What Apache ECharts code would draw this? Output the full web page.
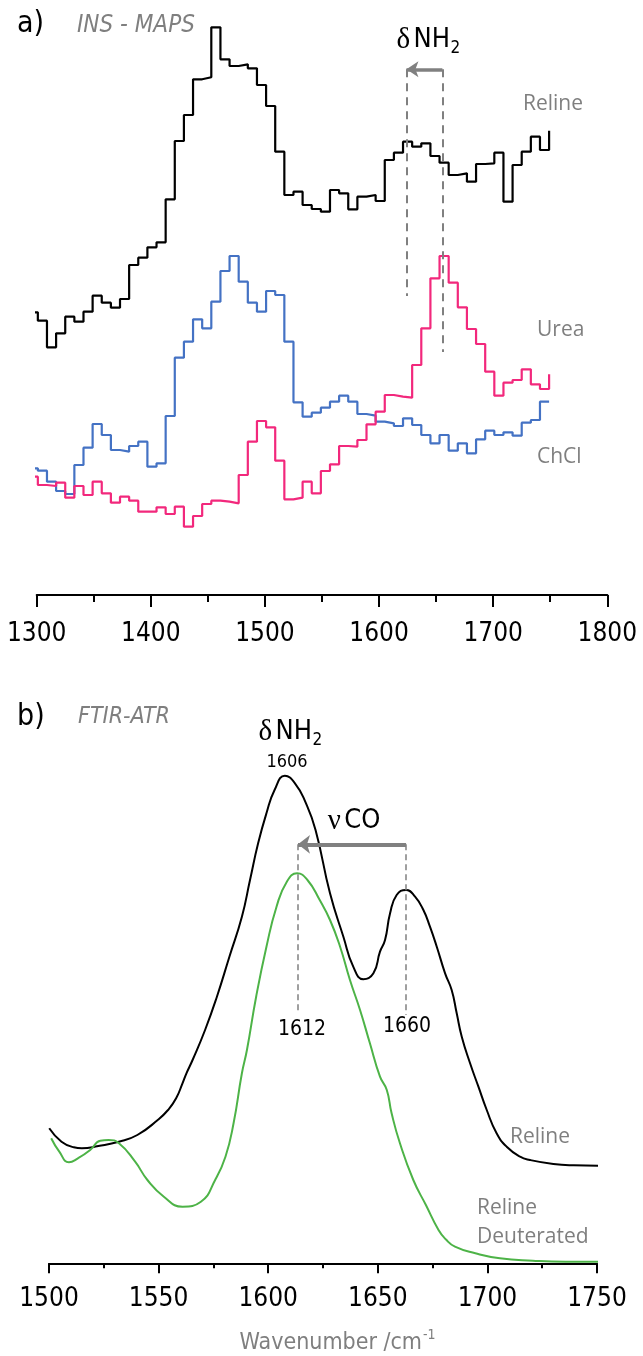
<!DOCTYPE html>
<html><head><meta charset="utf-8">
<script src="https://cdn.jsdelivr.net/npm/echarts@6/dist/echarts.min.js"></script>
<style>html,body{margin:0;padding:0;background:#fff}#c{width:643px;height:1356px}</style>
</head><body><div id="c"></div>
<script>
// ---------- Panel a: INS - MAPS (bin boundaries, cm-1; intensities in a.u.) ----------
const insWavenumber = [1293, 1301, 1309, 1317, 1325, 1333, 1341, 1349, 1357, 1365, 1373, 1381, 1389, 1397, 1405, 1413, 1421, 1429, 1437, 1445, 1453, 1461, 1469, 1477, 1485, 1493, 1501, 1509, 1517, 1525, 1533, 1541, 1549, 1557, 1565, 1573, 1581, 1589, 1597, 1605, 1613, 1621, 1629, 1637, 1645, 1653, 1661, 1669, 1677, 1685, 1693, 1701, 1709, 1717, 1725, 1733, 1741, 1749];
const insReline = [282.7, 274.3, 247.7, 261.7, 278.3, 273.3, 283.3, 299.3, 292.3, 287.3, 296, 330, 337.3, 347.7, 352.7, 395.7, 454, 480, 515.7, 517.7, 567.7, 535.7, 529, 530.7, 526.7, 510, 489, 443.3, 400, 403.3, 390, 386, 383.3, 405, 401.7, 385.7, 398.3, 400, 394, 435, 442.3, 453.3, 448.3, 451.7, 439, 432.3, 420, 421.7, 413.3, 431, 431.7, 442.3, 393.3, 430, 443.3, 458.3, 445, 464.3];
const insChCl = [126.7, 124.3, 113.3, 104, 101, 130, 147.3, 171, 160, 145, 143.3, 149, 153.3, 128.3, 131.7, 179, 237.3, 253.3, 275.7, 266.7, 293.3, 324, 339, 313.3, 292.3, 283.3, 304, 300, 253.3, 192.7, 178.3, 182.3, 187.3, 193.3, 199.3, 193.3, 181, 179.3, 173.3, 171.7, 169, 176.7, 170, 160, 151.7, 160, 144.3, 151.7, 141.7, 155.7, 164.3, 160, 162.7, 159.3, 172.3, 175, 193.3, 193.3];
const insUrea = [118.3, 110, 109, 112.3, 97.3, 109, 100, 113.3, 101.7, 92.3, 98.3, 94.3, 83.3, 83.3, 87.7, 81, 88.3, 68.3, 79, 91, 94.3, 93.3, 91.7, 120, 153.3, 174, 167.7, 134.3, 95.7, 97.3, 113.3, 101.7, 124, 130.7, 149, 148.3, 155, 170.7, 183.3, 200, 198.3, 197.3, 230, 266.7, 316.7, 339, 312.3, 287.7, 266, 251, 223.3, 199.3, 212.3, 215, 225.7, 210.7, 206, 220.7];
const insTicks = [1300, 1400, 1500, 1600, 1700, 1800];
const insShift = {from: 1655.5, to: 1624, level: 525.7, endTo: 299, endFrom: 243};

// ---------- Panel b: FTIR-ATR ----------
const ftirRelineWn = [1500.1, 1505.7, 1511.3, 1515, 1522.5, 1531.9, 1540.3, 1549.6, 1554.3, 1558, 1560.9, 1562.7, 1565.5, 1571.2, 1576.6, 1582.3, 1588, 1591.7, 1595.4, 1599.2, 1602.9, 1607.6, 1612.2, 1616.9, 1621.6, 1628.2, 1634.3, 1638.8, 1643.4, 1648, 1651, 1653.3, 1655.6, 1658.6, 1662.9, 1667, 1670.8, 1673.8, 1676.9, 1680.7, 1683.7, 1686, 1688.3, 1692.1, 1695.9, 1699.7, 1704.2, 1708.8, 1714.9, 1719.4, 1730.1, 1739.4, 1752.5];
const ftirReline = [135, 121.6, 116, 115, 117.3, 121.6, 128.3, 143.3, 153.3, 165, 180, 190, 203.3, 233.3, 266.6, 306.6, 346.6, 383.3, 420, 450, 473.3, 487.6, 480, 461.6, 433.3, 370, 326.6, 296.6, 284, 290, 311.6, 323.3, 350, 368.3, 373.3, 366.6, 353.3, 336.6, 316.6, 290, 273.3, 250, 226.6, 200, 176.6, 153.3, 130, 116.6, 106.6, 103.3, 99.3, 98, 97.6];
const ftirDeutWn = [1501, 1504.7, 1509.1, 1513.2, 1518.8, 1523.4, 1527.2, 1531.9, 1539.3, 1544.9, 1552.4, 1560.9, 1569.3, 1575.8, 1580.5, 1584.2, 1588, 1590.3, 1594.5, 1599.2, 1603.8, 1608.5, 1613.2, 1617.9, 1623.5, 1628.2, 1632.8, 1637.3, 1641.9, 1646.4, 1651, 1654.1, 1656.3, 1660.1, 1666.2, 1672, 1677.7, 1681, 1685.2, 1694.5, 1705.7, 1720.7, 1735.7, 1750.6];
const ftirDeut = [125, 111.6, 101, 105, 113.3, 122.6, 123.3, 120, 101.6, 83.3, 66.6, 56.6, 61.6, 83.3, 106.6, 140, 190, 213.3, 266.6, 316.6, 356.6, 381.6, 390, 383.3, 363.3, 343.3, 316.6, 283.3, 253.3, 220, 186.6, 173.3, 150, 120, 83.3, 58, 33.3, 24, 16.6, 10, 5, 2.6, 1.6, 1.6];
const ftirTicks = [1500, 1550, 1600, 1650, 1700, 1750];
const ftirShift = {from: 1662.9, to: 1613.6, level: 419, endTo: 250.3, endFrom: 248.3};

// ---------- Rendering ----------
const NUM_FONT = "'DejaVu Sans Condensed','DejaVu Sans',sans-serif";
const LBL_FONT = "'Open Sans',sans-serif";
const SERIF = "'Liberation Serif','DejaVu Serif',serif";
const GRAY = '#7f7f7f';
const pairs = (xs, ys) => xs.map((x, i) => [x, ys[i]]);

function xAxisCfg(gi, ticks, tickLen, minorLen, margin) {
  return {
    gridIndex: gi, type: 'value', min: ticks[0], max: ticks[ticks.length - 1],
    interval: ticks[1] - ticks[0],
    axisLine: {show: true, onZero: false, lineStyle: {color: '#000', width: 2}},
    axisTick: {show: true, length: tickLen, lineStyle: {color: '#000', width: 2}},
    minorTick: {show: true, splitNumber: 2, length: minorLen, lineStyle: {color: '#000', width: 2}},
    axisLabel: {fontSize: 26, fontFamily: NUM_FONT, color: '#000', margin: margin,
      formatter: v => String(v), showMinLabel: true, showMaxLabel: true, hideOverlap: false},
    splitLine: {show: false}, minorSplitLine: {show: false}
  };
}
function shiftMarks(s, dashW, dash, arrowW, arrowSize) {
  const dashStyle = {color: '#808080', width: dashW, type: dash};
  return {
    silent: true, animation: false, label: {show: false}, symbol: ['none', 'none'],
    emphasis: {disabled: true},
    data: [
      [{coord: [s.to, s.level], lineStyle: dashStyle}, {coord: [s.to, s.endTo]}],
      [{coord: [s.from, s.level], lineStyle: dashStyle}, {coord: [s.from, s.endFrom]}],
      [{coord: [s.from, s.level], symbol: 'none', lineStyle: {color: '#808080', width: arrowW, type: 'solid'}},
       {coord: [s.to, s.level], symbol: 'arrow', symbolSize: arrowSize}]
    ]
  };
}
function txt(x, y, text, size, color, family, align, extra) {
  return {type: 'text', silent: true, z: 10, style: Object.assign({
    x: x, y: y, text: text, fontSize: size, fontFamily: family, fill: color,
    align: align || 'left', verticalAlign: 'middle'}, extra || {})};
}
function greek(x, y, g, rest, align) {
  return {type: 'text', silent: true, z: 10, style: {x: x, y: y, text: '{g|' + g + '} {n|' + rest + '}',
    align: align, verticalAlign: 'middle',
    rich: {g: {fontSize: 29, fontFamily: SERIF, fill: '#000'}, n: {fontSize: 27, fontFamily: NUM_FONT, fill: '#000'}}}};
}

const chart = echarts.init(document.getElementById('c'), null, {renderer: 'canvas'});
chart.setOption({
  animation: false,
  grid: [
    {left: 36.7, right: 35.7, top: 20, bottom: 761, outerBoundsMode: 'none'},
    {left: 49, right: 46, top: 763.3, bottom: 92.7, outerBoundsMode: 'none'}
  ],
  xAxis: [xAxisCfg(0, insTicks, 12, 7, 26), xAxisCfg(1, ftirTicks, 10, 5, 23)],
  yAxis: [
    {gridIndex: 0, type: 'value', min: 0, max: 575, show: false},
    {gridIndex: 1, type: 'value', min: 0, max: 500, show: false}
  ],
  series: [
    {name: 'Reline (INS)', type: 'line', xAxisIndex: 0, yAxisIndex: 0, step: 'end', symbol: 'none',
     clip: false, silent: true, lineStyle: {color: '#000', width: 2.2}, data: pairs(insWavenumber, insReline),
     markLine: shiftMarks(insShift, 2, [8, 6], 3.5, [12, 12])},
    {name: 'ChCl', type: 'line', xAxisIndex: 0, yAxisIndex: 0, step: 'end', symbol: 'none',
     clip: false, silent: true, lineStyle: {color: '#4472C4', width: 2.2}, data: pairs(insWavenumber, insChCl)},
    {name: 'Urea', type: 'line', xAxisIndex: 0, yAxisIndex: 0, step: 'end', symbol: 'none',
     clip: false, silent: true, lineStyle: {color: '#F2287C', width: 2.2}, data: pairs(insWavenumber, insUrea)},
    {name: 'Reline (FTIR)', type: 'line', xAxisIndex: 1, yAxisIndex: 1, smooth: 0.5, symbol: 'none',
     clip: false, silent: true, lineStyle: {color: '#000', width: 2}, data: pairs(ftirRelineWn, ftirReline),
     markLine: shiftMarks(ftirShift, 1.5, [6, 4], 4, [14, 12])},
    {name: 'Reline Deuterated', type: 'line', xAxisIndex: 1, yAxisIndex: 1, smooth: 0.5, symbol: 'none',
     clip: false, silent: true, lineStyle: {color: '#4DB347', width: 2}, data: pairs(ftirDeutWn, ftirDeut)}
  ],
  graphic: [
    txt(17, 24, 'a)', 30, '#000', NUM_FONT),
    txt(77, 26, 'INS - MAPS', 24, GRAY, NUM_FONT, 'left', {fontStyle: 'italic'}),
    greek(450, 40, 'δ', 'NH', 'right'),
    txt(450.5, 49, '2', 17, '#000', NUM_FONT),
    txt(523, 104, 'Reline', 21, GRAY, LBL_FONT),
    txt(537, 330, 'Urea', 21, GRAY, LBL_FONT),
    txt(537, 457, 'ChCl', 21, GRAY, LBL_FONT),

    txt(17, 717, 'b)', 30, '#000', NUM_FONT),
    txt(78, 717, 'FTIR-ATR', 23, GRAY, NUM_FONT, 'left', {fontStyle: 'italic'}),
    greek(312, 732, 'δ', 'NH', 'right'),
    txt(312.5, 741, '2', 17, '#000', NUM_FONT),
    txt(287, 762, '1606', 18, '#000', NUM_FONT, 'center'),
    greek(354, 821, 'ν', 'CO', 'center'),
    txt(302, 1030, '1612', 21, '#000', NUM_FONT, 'center'),
    txt(407, 1027, '1660', 21, '#000', NUM_FONT, 'center'),
    txt(510, 1137, 'Reline', 21, GRAY, LBL_FONT),
    txt(477, 1208, 'Reline', 21, GRAY, LBL_FONT),
    txt(477, 1237, 'Deuterated', 21, GRAY, LBL_FONT),
    txt(422, 1343, 'Wavenumber /cm', 23, GRAY, NUM_FONT, 'right'),
    txt(423, 1335, '-1', 14, GRAY, NUM_FONT)
  ]
});
</script></body></html>
